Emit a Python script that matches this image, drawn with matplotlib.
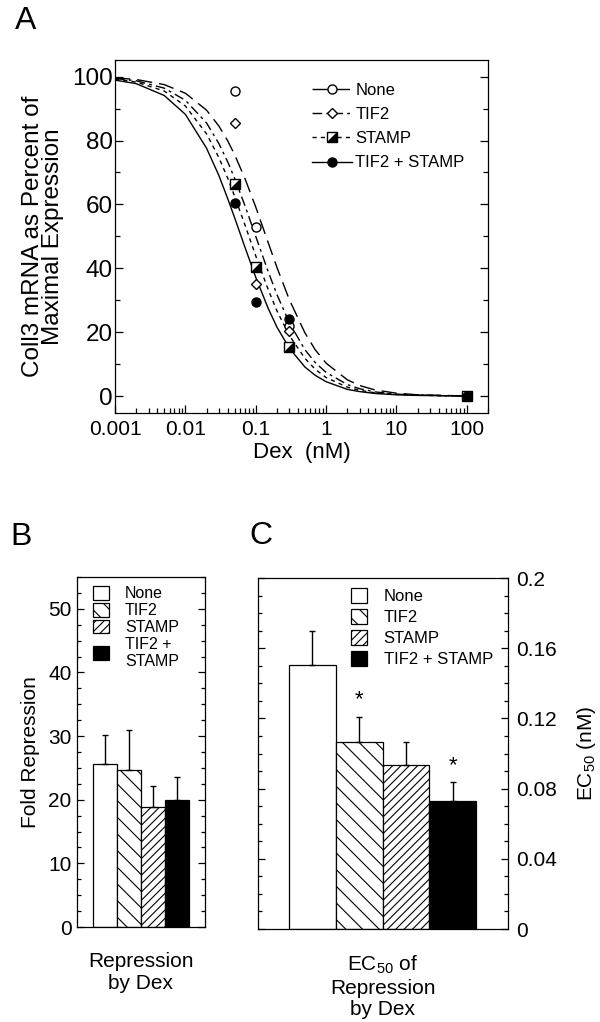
import numpy as np
import matplotlib
matplotlib.use("Agg")
import matplotlib.pyplot as plt
from matplotlib.lines import Line2D
from matplotlib.patches import Patch
from matplotlib.ticker import MultipleLocator, LogLocator, FixedLocator, FixedFormatter, NullFormatter

plt.rcParams['font.family'] = ['Liberation Sans', 'DejaVu Sans']
plt.rcParams['mathtext.default'] = 'regular'
plt.rcParams['axes.linewidth'] = 0.9
plt.rcParams['hatch.linewidth'] = 0.8

# Panel A: puntos medidos
dex = [0.05, 0.1, 0.3, 100]
pts_none = [95.5, 53.0, 22.0, 0.0]
pts_tif2 = [85.5, 35.0, 20.5, 0.0]
pts_stamp = [66.5, 40.5, 15.5, 0.0]
pts_both = [60.5, 29.5, 24.0, 0.0]

# Panel A: curvas ajustadas
curva_x = [0.001, 0.002, 0.005, 0.01, 0.02, 0.03, 0.04, 0.05, 0.07, 0.1, 0.15, 0.2,
           0.3, 0.5, 0.7, 1, 2, 3, 5, 10, 20, 50, 100]
curva_none = [99.6, 99.1, 97.5, 94.8, 89.5, 84.5, 79.9, 75.6, 68.2, 59.2, 48.1, 40.3,
              30.2, 19.8, 14.5, 10.3, 5.1, 3.3, 1.9, 0.9, 0.4, 0.2, 0.0]
curva_tif2 = [99.4, 98.7, 96.4, 92.6, 85.5, 79.0, 73.3, 68.2, 59.7, 50.0, 39.0, 31.8,
              23.0, 14.5, 10.5, 7.4, 3.6, 2.3, 1.3, 0.6, 0.3, 0.1, 0.0]
curva_stamp = [99.2, 98.3, 95.5, 90.8, 82.1, 74.6, 68.2, 62.6, 53.7, 43.9, 33.4, 26.7,
               19.0, 11.8, 8.4, 5.8, 2.8, 1.8, 1.0, 0.5, 0.3, 0.1, 0.0]
curva_both = [98.9, 97.8, 94.1, 88.2, 77.6, 69.0, 61.8, 55.9, 46.7, 37.2, 27.5, 21.6,
              15.0, 9.1, 6.5, 4.5, 2.1, 1.4, 0.8, 0.4, 0.2, 0.1, 0.0]

grupos = ['None', 'TIF2', 'STAMP', 'TIF2 + STAMP']
xtick_vals = [0.001, 0.01, 0.1, 1, 10, 100]
xtick_labels = ['0.001', '0.01', '0.1', '1', '10', '100']

# Panel B: represion (veces)
rep_vals = [25.6, 24.6, 18.9, 19.9]
rep_err = [4.6, 6.4, 3.3, 3.6]

# Panel C: EC50 (nM)
ec50_vals = [0.1506, 0.1064, 0.0933, 0.0728]
ec50_err = [0.0194, 0.0146, 0.0131, 0.0108]
ec50_sig = [1, 3]
ec50_ticks = [0, 0.04, 0.08, 0.12, 0.16, 0.2]
ec50_labels = ['0', '0.04', '0.08', '0.12', '0.16', '0.2']

colores = ['white', 'white', 'white', 'black']
tramas = [None, '\\\\', '////', None]

W, H = 600, 1022


def rect(l, t, r, b):
    return [l / W, 1 - b / H, (r - l) / W, (b - t) / H]


fig = plt.figure(figsize=(6, 10.22), dpi=100)

# ---------------- Panel A ----------------
axA = fig.add_axes(rect(115, 60, 488, 413))
axA.set_xscale('log')
lw = 1.0
estilos = [(0, (11, 5)), (0, (7, 3, 2, 3)), (0, (3, 3)), '-']
axA.plot(curva_x, curva_none, color='k', lw=lw, ls=estilos[0])
axA.plot(curva_x, curva_tif2, color='k', lw=lw, ls=estilos[1])
axA.plot(curva_x, curva_stamp, color='k', lw=lw, ls=estilos[2])
axA.plot(curva_x, curva_both, color='k', lw=lw, ls=estilos[3])

ms = 6.5
tri = [(-1, -1), (1, -1), (1, 1), (-1, -1)]
axA.plot(dex, pts_none, ls='none', marker='o', mfc='white', mec='k', mew=1.0, ms=ms)
axA.plot(dex, pts_tif2, ls='none', marker='D', mfc='white', mec='k', mew=1.0, ms=ms * 0.85)
axA.plot(dex, pts_stamp, ls='none', marker='s', mfc='white', mec='k', mew=1.0, ms=ms)
axA.plot(dex, pts_stamp, ls='none', marker=tri, mfc='k', mec='k', mew=1.0, ms=ms)
axA.plot(dex, pts_both, ls='none', marker='o', mfc='k', mec='k', mew=1.0, ms=ms)

axA.set_xlim(0.001, 200)
axA.set_ylim(-5.3, 105.2)
axA.xaxis.set_major_locator(FixedLocator(xtick_vals))
axA.xaxis.set_major_formatter(FixedFormatter(xtick_labels))
axA.xaxis.set_minor_locator(LogLocator(base=10, subs=np.arange(2, 10), numticks=20))
axA.xaxis.set_minor_formatter(NullFormatter())
axA.set_yticks([0, 20, 40, 60, 80, 100])
axA.yaxis.set_minor_locator(FixedLocator([10, 30, 50, 70, 90]))
axA.tick_params(which='both', direction='in', right=True, top=False, width=0.9)
axA.tick_params(which='major', length=6)
axA.tick_params(which='minor', length=3.5)
axA.tick_params(axis='x', pad=5, labelsize=15)
axA.tick_params(axis='y', pad=1.5, labelsize=17.5)
axA.set_xlabel('Dex  (nM)', fontsize=16, labelpad=2)
axA.set_ylabel('Coll3 mRNA as Percent of\nMaximal Expression', fontsize=17.5,
               linespacing=0.85, labelpad=6)

hA = [Line2D([], [], color='k', lw=lw, ls=estilos[0], marker='o', mfc='white', ms=ms),
      Line2D([], [], color='k', lw=lw, ls=estilos[1], marker='D', mfc='white', ms=ms * 0.85),
      (Line2D([], [], color='k', lw=lw, ls=estilos[2], marker='s', mfc='white', ms=ms),
       Line2D([], [], ls='none', marker=tri, mfc='k', mec='k', ms=ms)),
      Line2D([], [], color='k', lw=lw, ls=estilos[3], marker='o', mfc='k', ms=ms)]
axA.legend(hA, grupos, loc='upper left', bbox_to_anchor=(0.528, 0.935), frameon=False,
           fontsize=12, handlelength=2.4, handletextpad=0.2, labelspacing=0.55,
           borderpad=0, borderaxespad=0)

# ---------------- Panel B ----------------
axB = fig.add_axes(rect(77, 577, 205, 927))
pos = np.arange(len(grupos))
for i in range(len(grupos)):
    axB.bar(pos[i], rep_vals[i], width=1.0, color=colores[i], edgecolor='k',
            linewidth=0.9, hatch=tramas[i], zorder=2)
axB.errorbar(pos, rep_vals, yerr=[np.zeros(len(grupos)), rep_err], fmt='none',
             ecolor='k', elinewidth=1.0, capsize=2.2, capthick=1.0, zorder=3)
axB.set_xlim(-1.17, 4.17)
axB.set_ylim(0, 55)
axB.yaxis.set_major_locator(MultipleLocator(10))
axB.yaxis.set_minor_locator(MultipleLocator(2.5))
axB.tick_params(axis='x', bottom=False, labelbottom=False)
axB.tick_params(axis='y', which='both', direction='in', right=True, labelsize=15,
                width=0.9, pad=4)
axB.tick_params(which='major', length=5)
axB.tick_params(which='minor', length=3)
axB.set_ylabel('Fold Repression', fontsize=15, labelpad=6)
axB.set_xlabel('Repression\nby Dex', fontsize=15, linespacing=1.2, labelpad=18)
hB = [Patch(facecolor=colores[i], edgecolor='k', hatch=tramas[i], lw=0.9) for i in range(4)]
axB.legend(hB, ['None', 'TIF2', 'STAMP', 'TIF2 +\nSTAMP'], loc='upper left',
           bbox_to_anchor=(0.125, 0.975), frameon=False, fontsize=11.5,
           handlelength=1.0, handleheight=0.95, handletextpad=1.0, labelspacing=0.1,
           borderpad=0, borderaxespad=0)

# ---------------- Panel C ----------------
axC = fig.add_axes(rect(258, 578, 508, 929))
for i in range(len(grupos)):
    axC.bar(pos[i], ec50_vals[i], width=1.0, color=colores[i], edgecolor='k',
            linewidth=0.9, hatch=tramas[i], zorder=2)
axC.errorbar(pos, ec50_vals, yerr=[np.zeros(len(grupos)), ec50_err], fmt='none',
             ecolor='k', elinewidth=1.0, capsize=2.2, capthick=1.0, zorder=3)
for i in ec50_sig:
    axC.annotate('*', xy=(pos[i], ec50_vals[i] + ec50_err[i]), xytext=(0, 12),
                 textcoords='offset points', ha='center', va='center', fontsize=16)
axC.set_xlim(-1.16, 4.18)
axC.set_ylim(0, 0.2)
axC.yaxis.set_major_locator(FixedLocator(ec50_ticks))
axC.yaxis.set_major_formatter(FixedFormatter(ec50_labels))
axC.yaxis.set_minor_locator(MultipleLocator(0.01))
axC.yaxis.tick_right()
axC.yaxis.set_label_position('right')
axC.tick_params(axis='x', bottom=False, labelbottom=False)
axC.tick_params(axis='y', which='both', direction='in', left=True, right=True,
                labelleft=False, labelright=True, labelsize=15, width=0.9, pad=6)
axC.tick_params(which='major', length=5)
axC.tick_params(which='minor', length=3)
axC.set_ylabel('EC$_{50}$ (nM)', fontsize=15, rotation=90, labelpad=13)
axC.set_xlabel('EC$_{50}$ of\nRepression\nby Dex', fontsize=15, linespacing=1.15, labelpad=18)
hC = [Patch(facecolor=colores[i], edgecolor='k', hatch=tramas[i], lw=0.9) for i in range(4)]
axC.legend(hC, grupos, loc='upper left', bbox_to_anchor=(0.372, 0.972), frameon=False,
           fontsize=12, handlelength=0.95, handleheight=1.0, handletextpad=1.0,
           labelspacing=0.3, borderpad=0, borderaxespad=0)

# letras de los paneles
fig.text(15 / W, 1 - 6 / H, 'A', fontsize=23, va='top', ha='left')
fig.text(10 / W, 1 - 522 / H, 'B', fontsize=23, va='top', ha='left')
fig.text(249 / W, 1 - 521 / H, 'C', fontsize=23, va='top', ha='left')

fig.savefig('out.png', dpi=100)
